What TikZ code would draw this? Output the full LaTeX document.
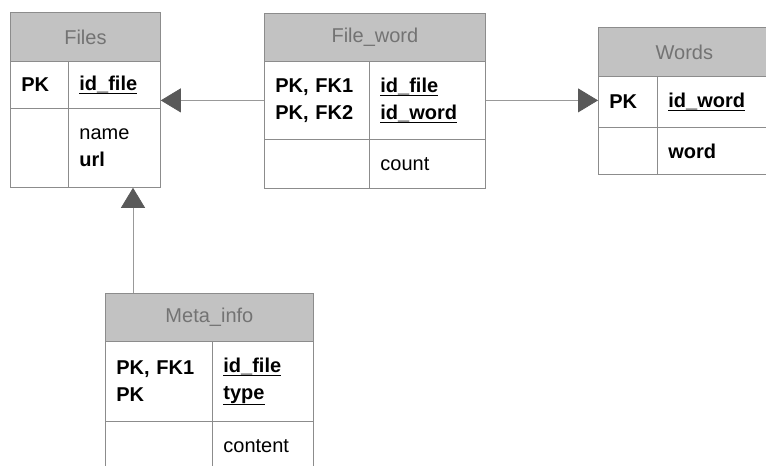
\documentclass[tikz,border=0pt]{standalone}
\usepackage{fontspec}
\setmainfont{Liberation Sans}
\usetikzlibrary{arrows.meta}

\newsavebox{\fieldbox}
\newcommand{\keyfield}[1]{\sbox\fieldbox{#1}\rlap{\rule[\dimexpr-\dp\fieldbox-1pt\relax]{\wd\fieldbox}{1.1pt}}\usebox\fieldbox}

\begin{document}
\begin{tikzpicture}[x=1pt,y=-1pt,
    every node/.style={font=\fontsize{20}{27}\selectfont},
    tbl/.style={draw=black!45,line width=0.8pt,inner ysep=0pt,inner xsep=11pt,anchor=north west},
    hdr/.style={tbl,fill=black!24,text=black!55},
    cell/.style={tbl,align=left},
    ref/.style={draw=black!40,line width=0.8pt,-{Triangle[length=20pt,width=24pt,color=black!65]}}]

    \useasboundingbox (0,0) rectangle (766,466);

    % Files
    \node[hdr,minimum width=150,minimum height=49] (files) at (10,12) {Files};
    \node[cell,text width=36,minimum height=47] (files-pk) at (10,61) {\textbf{PK}};
    \node[cell,text width=70,minimum height=47] (files-id) at (68,61) {\textbf{\keyfield{id\_file}}};
    \node[cell,text width=36,minimum height=79] (files-k2) at (10,108) {};
    \node[cell,text width=70,minimum height=79] (files-att) at (68,108) {name\\\textbf{url}};

    % File_word
    \node[hdr,minimum width=221,minimum height=48] (fw) at (264,13) {File\_word};
    \node[cell,text width=83,minimum height=78] (fw-pk) at (264,61) {\textbf{PK, FK1}\\\textbf{PK, FK2}};
    \node[cell,text width=94,minimum height=78] (fw-id) at (369,61) {\textbf{\keyfield{id\_file}}\\\textbf{\keyfield{id\_word}}};
    \node[cell,text width=83,minimum height=49] (fw-k2) at (264,139) {};
    \node[cell,text width=94,minimum height=49] (fw-att) at (369,139) {count};

    % Words
    \node[hdr,minimum width=172,minimum height=49] (words) at (598,27) {Words};
    \node[cell,text width=37,minimum height=51] (words-pk) at (598,76) {\textbf{PK}};
    \node[cell,text width=91,minimum height=51] (words-id) at (657,76) {\textbf{\keyfield{id\_word}}};
    \node[cell,text width=37,minimum height=47] (words-k2) at (598,127) {};
    \node[cell,text width=91,minimum height=47] (words-att) at (657,127) {\textbf{word}};

    % Meta_info
    \node[hdr,minimum width=208,minimum height=48] (meta) at (105,293) {Meta\_info};
    \node[cell,text width=85,minimum height=80] (meta-pk) at (105,341) {\textbf{PK, FK1}\\\textbf{PK}};
    \node[cell,text width=79,minimum height=80] (meta-id) at (212,341) {\textbf{\keyfield{id\_file}}\\\textbf{\keyfield{type}}};
    \node[cell,text width=85,minimum height=49] (meta-k2) at (105,421) {};
    \node[cell,text width=79,minimum height=49] (meta-att) at (212,421) {content};

    % references
    \draw[ref] (fw-pk.west) -- (fw-pk.west -| files.east);
    \draw[ref] (fw-id.east) -- (fw-id.east -| words-pk.west);
    \draw[ref] ([xshift=28]meta.north west) -- ([xshift=28]meta.north west |- files-att.south);

\end{tikzpicture}
\end{document}
